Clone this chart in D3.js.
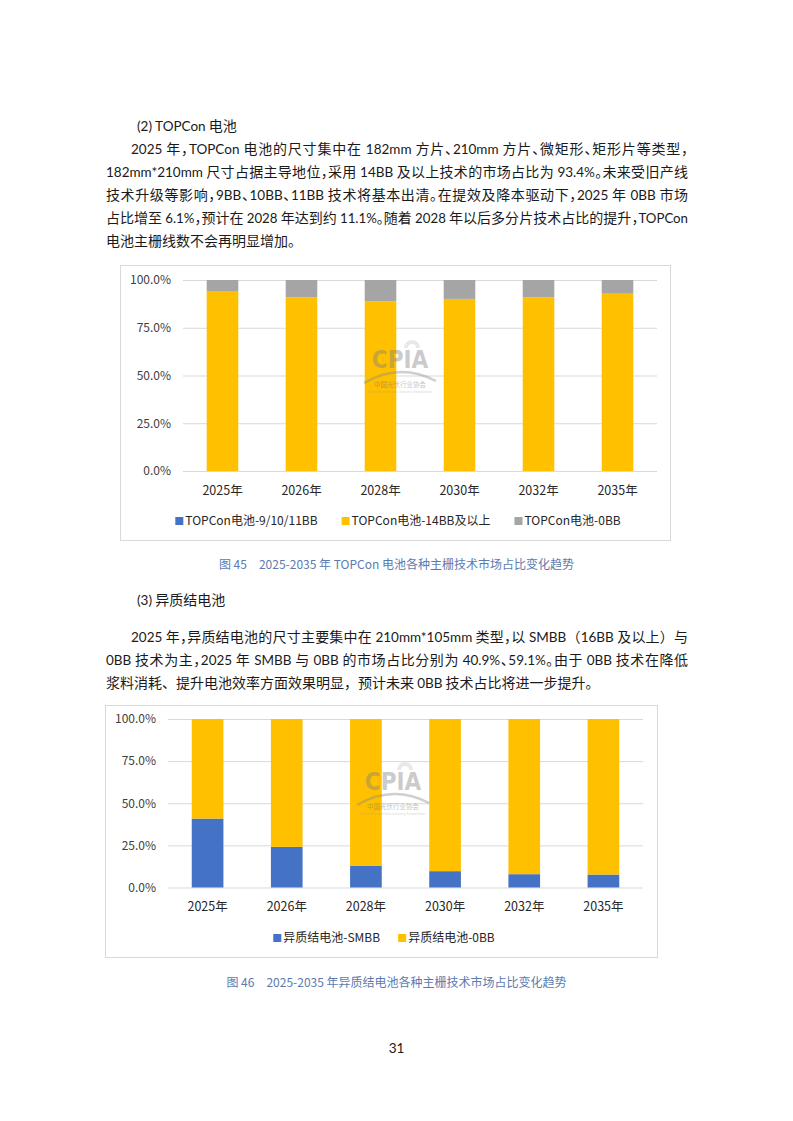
<!DOCTYPE html>
<html>
<head>
<meta charset="utf-8">
<script src="https://cdn.jsdelivr.net/npm/d3@7"></script>
<style>
  body { margin: 0; background: #fff; }
  #page { position: relative; width: 793px; height: 1121px; overflow: hidden;
          font-family: "Noto Sans CJK SC", sans-serif; color: #1a1a1a; }
  #page svg { position: absolute; left: 0; top: 0; }
  .ln { position: absolute; font-size: 14px; line-height: 23px; white-space: nowrap; }
  .ln .lat { font-family: "Lato", "Noto Sans", sans-serif; font-size: 13.5px; }
  .ln .pct { font-feature-settings: "halt"; }
  .just { text-align: justify; text-align-last: justify; }
  .cap { position: absolute; font-size: 12px; line-height: 18px; color: #5b7bb0; white-space: nowrap; }
</style>
</head>
<body>
<div id="page">
  <div class="ln" style="left:137px;top:114px;">(2) TOPCon 电池</div>
  <div class="ln just" style="left:131px;top:137px;width:557px;">2025 年，TOPCon 电池的尺寸集中在 182mm 方片、210mm 方片、微矩形、矩形片等类型，</div>
  <div class="ln just" style="left:106px;top:160px;width:582px;">182mm*210mm 尺寸占据主导地位，采用 14BB 及以上技术的市场占比为 93.4%。未来受旧产线</div>
  <div class="ln just" style="left:106px;top:183px;width:582px;">技术升级等影响，9BB、10BB、11BB 技术将基本出清。在提效及降本驱动下，2025 年 0BB 市场</div>
  <div class="ln just" style="left:106px;top:206px;width:582px;">占比增至 6.1%，预计在 2028 年达到约 11.1%。随着 2028 年以后多分片技术占比的提升，TOPCon</div>
  <div class="ln" style="left:106px;top:229px;">电池主栅线数不会再明显增加。</div>

  <div class="cap" style="left:0;width:793px;text-align:center;top:555px;">图 45　2025-2035 年 TOPCon 电池各种主栅技术市场占比变化趋势</div>

  <div class="ln" style="left:137px;top:588px;">(3) 异质结电池</div>
  <div class="ln just" style="left:131px;top:625px;width:557px;">2025 年，异质结电池的尺寸主要集中在 210mm*105mm 类型，以 SMBB（16BB 及以上）与</div>
  <div class="ln just" style="left:106px;top:648px;width:582px;">0BB 技术为主，2025 年 SMBB 与 0BB 的市场占比分别为 40.9%、59.1%。由于 0BB 技术在降低</div>
  <div class="ln" style="left:106px;top:671px;">浆料消耗、提升电池效率方面效果明显，预计未来 0BB 技术占比将进一步提升。</div>

  <div class="cap" style="left:0;width:793px;text-align:center;top:973px;">图 46　2025-2035 年异质结电池各种主栅技术市场占比变化趋势</div>

  <div class="ln" style="left:0;width:793px;text-align:center;top:1036px;font-size:12px;">31</div>
</div>
<script>
// categories shared by both charts
var years = ["2025年", "2026年", "2028年", "2030年", "2032年", "2035年"];

// chart 1: TOPCon main busbar shares (%)
var topcon9to11BB = [0, 0, 0, 0, 0, 0];
var topcon14BB = [93.9, 90.9, 88.9, 90.1, 90.9, 92.8];
var topcon0BB = [6.1, 9.1, 11.1, 9.9, 9.1, 7.2];

// chart 2: heterojunction main busbar shares (%)
var hjtSMBB = [40.9, 24.1, 13.0, 9.7, 7.9, 7.7];
var hjt0BB = [59.1, 75.9, 87.0, 90.3, 92.1, 92.3];

var yTicks = [0, 0.25, 0.5, 0.75, 1];

// body text: narrower face for latin runs, half-width punctuation inside justified lines,
// then shrink the latin a little if a line still does not fit
d3.selectAll(".ln").each(function () {
  var el = this;
  var html = el.textContent.replace(/([\x21-\x7e][\x20-\x7e]*[\x21-\x7e]|[\x21-\x7e])/g, '<span class="lat">$1</span>');
  if (el.classList.contains("just")) {
    html = html.replace(/[，、。]/g, '<span class="pct">$&</span>');
  }
  el.innerHTML = html;
});
d3.selectAll(".just").each(function () {
  var el = this, size = 13.5;
  while (el.scrollWidth > el.clientWidth && size > 11) {
    size -= 0.25;
    d3.select(el).selectAll(".lat").style("font-size", size + "px");
  }
});

var svg = d3.select("#page").append("svg")
  .attr("width", 793)
  .attr("height", 1121);

var labelFont = "'Noto Sans CJK SC', 'Noto Sans', sans-serif";

function drawWatermark(g, pos) {
  var wm = g.append("g")
    .attr("transform", "translate(" + pos[0] + "," + pos[1] + ")")
    .attr("opacity", 0.4);
  // little sun above the letters
  wm.append("path")
    .attr("d", d3.arc()({ innerRadius: 4, outerRadius: 8, startAngle: -Math.PI / 2, endAngle: Math.PI / 2 }))
    .attr("transform", "translate(12,-12)")
    .attr("fill", "#c8c8c8");
  wm.append("text")
    .attr("text-anchor", "middle")
    .attr("y", 8)
    .attr("fill", "#7f7f7f")
    .style("font-family", "'DejaVu Sans Condensed', 'DejaVu Sans', sans-serif")
    .style("font-weight", "bold")
    .style("font-size", "24px")
    .text("CPIA");
  wm.append("path")
    .attr("d", "M-36,23 Q0,2 36,21")
    .attr("fill", "none")
    .attr("stroke", "#8a8a8a")
    .attr("stroke-width", 2.4);
  wm.append("text")
    .attr("text-anchor", "middle")
    .attr("y", 27)
    .attr("fill", "#6a6a6a")
    .style("font-family", labelFont)
    .style("font-size", "6.5px")
    .text("中国光伏行业协会");
  wm.append("text")
    .attr("text-anchor", "middle")
    .attr("y", 33)
    .attr("fill", "#9a9a9a")
    .style("font-family", labelFont)
    .style("font-size", "3.5px")
    .text("China Photovoltaic Industry Association");
}

function drawChart(opt) {
  var rows = years.map(function (year, i) {
    var row = { year: year };
    opt.series.forEach(function (s) { row[s.name] = s.values[i] / 100; });
    return row;
  });

  var g = svg.append("g");

  // frame
  g.append("rect")
    .attr("x", opt.box.x + 0.5).attr("y", opt.box.y + 0.5)
    .attr("width", opt.box.w).attr("height", opt.box.h)
    .attr("fill", "#fff").attr("stroke", "#d9d9d9");

  var x = d3.scaleBand()
    .domain(years)
    .range(opt.xRange)
    .paddingInner(0.6)
    .paddingOuter(0.3);

  var y = d3.scaleLinear()
    .domain([0, 1])
    .range(opt.yRange);

  // y axis with gridlines
  var yAxis = g.append("g")
    .attr("transform", "translate(" + opt.xRange[0] + ",0)")
    .call(d3.axisLeft(y)
      .tickValues(yTicks)
      .tickFormat(d3.format(".1%"))
      .tickSize(-(opt.xRange[1] - opt.xRange[0]))
      .tickPadding(12));
  yAxis.select(".domain").remove();
  yAxis.selectAll("line").attr("stroke", "#d9d9d9");
  yAxis.selectAll("text")
    .attr("fill", "#404040")
    .style("font-family", labelFont)
    .style("font-size", "12px");

  // stacked bars
  var stack = d3.stack().keys(opt.series.map(function (s) { return s.name; }));
  var layers = stack(rows);

  g.selectAll("g.layer")
    .data(layers)
    .enter()
    .append("g")
    .attr("class", "layer")
    .attr("fill", function (d, i) { return opt.series[i].color; })
    .selectAll("rect")
    .data(function (d) { return d; })
    .enter()
    .append("rect")
    .attr("x", function (d) { return x(d.data.year); })
    .attr("y", function (d) { return y(d[1]); })
    .attr("width", x.bandwidth())
    .attr("height", function (d) { return y(d[0]) - y(d[1]); });

  drawWatermark(g, opt.mark);

  // x axis labels
  var xAxis = g.append("g")
    .attr("transform", "translate(0," + opt.yRange[0] + ")")
    .call(d3.axisBottom(x).tickSize(0).tickPadding(15));
  xAxis.select(".domain").remove();
  xAxis.selectAll("text")
    .attr("fill", "#262626")
    .style("font-family", labelFont)
    .style("font-size", "12.5px");

  // legend, centred in the frame
  var legend = g.append("g");
  var items = legend.selectAll("g")
    .data(opt.series)
    .enter()
    .append("g");
  items.append("rect")
    .attr("width", 8).attr("height", 8)
    .attr("y", -4)
    .attr("fill", function (d) { return d.color; });
  items.append("text")
    .attr("x", 10)
    .attr("dy", "0.35em")
    .attr("fill", "#262626")
    .style("font-family", labelFont)
    .style("font-size", "12px")
    .text(function (d) { return d.name; });

  var offset = 0;
  var widths = [];
  items.each(function () {
    widths.push(10 + d3.select(this).select("text").node().getComputedTextLength());
  });
  items.attr("transform", function (d, i) {
    var t = "translate(" + offset + ",0)";
    offset += widths[i] + opt.legendGap;
    return t;
  });
  var total = offset - opt.legendGap;
  legend.attr("transform", "translate(" + (opt.box.x + opt.box.w / 2 - total / 2 + opt.legendShift) + "," + opt.legendY + ")");
}

drawChart({
  box: { x: 120, y: 265, w: 550, h: 275 },
  xRange: [183, 657],
  yRange: [471, 280],
  mark: [400, 360],
  legendY: 521,
  legendGap: 24,
  legendShift: 3,
  series: [
    { name: "TOPCon电池-9/10/11BB", values: topcon9to11BB, color: "#4472c4" },
    { name: "TOPCon电池-14BB及以上", values: topcon14BB, color: "#ffc000" },
    { name: "TOPCon电池-0BB", values: topcon0BB, color: "#a5a5a5" }
  ]
});

drawChart({
  box: { x: 105, y: 705, w: 552, h: 252 },
  xRange: [168, 643],
  yRange: [887.5, 719],
  mark: [393, 782],
  legendY: 938,
  legendGap: 18,
  legendShift: 3,
  series: [
    { name: "异质结电池-SMBB", values: hjtSMBB, color: "#4472c4" },
    { name: "异质结电池-0BB", values: hjt0BB, color: "#ffc000" }
  ]
});
</script>
</body>
</html>
